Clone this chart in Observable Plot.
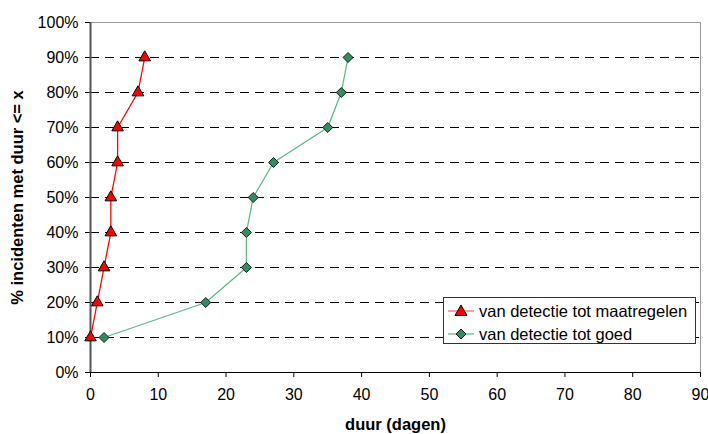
<!DOCTYPE html>
<html>
<head>
<meta charset="utf-8">
<script src="https://cdn.jsdelivr.net/npm/d3@7"></script>
<script src="https://cdn.jsdelivr.net/npm/@observablehq/plot@0.6"></script>
<style>
  html, body { margin: 0; padding: 0; background: #fff; }
  #wrap { position: relative; width: 708px; height: 434px; font-family: "Liberation Sans", Arial, sans-serif; }
  #legend { position: absolute; left: 443px; top: 297px; width: 253px; height: 47px; border: 1px solid #333; background: #fff; box-sizing: border-box; }
  .row { position: absolute; left: 3px; height: 22px; display: flex; align-items: center; font-size: 16.5px; color: #000; }
  .row svg { margin-right: 4px; }
</style>
</head>
<body>
<div id="wrap"></div>
<script>
// Data
const seriesNames = ["van detectie tot maatregelen", "van detectie tot goed"];
const pctLevels = [10, 20, 30, 40, 50, 60, 70, 80, 90];
const duurMaatregelen = [0, 1, 2, 3, 3, 4, 4, 7, 8];
const duurGoed = [2, 17, 23, 23, 24, 27, 35, 37, 38];
const xTicks = [0, 10, 20, 30, 40, 50, 60, 70, 80, 90];
const yTicks = [0, 10, 20, 30, 40, 50, 60, 70, 80, 90, 100];

const red = pctLevels.map((p, i) => ({x: duurMaatregelen[i], y: p}));
const green = pctLevels.map((p, i) => ({x: duurGoed[i], y: p}));

const font = "Liberation Sans, Arial, sans-serif";

const chart = Plot.plot({
  width: 708,
  height: 434,
  marginLeft: 90,
  marginRight: 8,
  marginTop: 22,
  marginBottom: 62,
  style: {fontFamily: font, fontSize: "16px", color: "#000", background: "#fff"},
  x: {domain: [0, 90], label: null},
  y: {domain: [0, 100], label: null},
  marks: [
    Plot.ruleY(pctLevels, {stroke: "#000", strokeDasharray: "9,6", strokeWidth: 1}),
    Plot.ruleY([100], {stroke: "#999", strokeWidth: 1}),
    Plot.ruleX([90], {stroke: "#999", strokeWidth: 1}),
    Plot.axisX({ticks: xTicks, tickSize: 5, tickPadding: 11, label: null, fontSize: 16}),
    Plot.axisY({ticks: yTicks, tickSize: 5, tickPadding: 7, label: null, tickFormat: d => d + "%", fontSize: 16}),
    Plot.ruleY([0], {stroke: "#000", strokeWidth: 1.2}),
    Plot.ruleX([0], {stroke: "#555", strokeWidth: 2}),
    Plot.line(green, {x: "x", y: "y", stroke: "#5fb88a", strokeWidth: 1.3}),
    Plot.line(red, {x: "x", y: "y", stroke: "#ff0000", strokeWidth: 1.3}),
    Plot.dot(green, {x: "x", y: "y", symbol: "diamond2", r: 4.5, fill: "#2e9060", stroke: "#1a1a1a", strokeWidth: 1}),
    Plot.dot(red, {x: "x", y: "y", symbol: "triangle", r: 4.3, fill: "#ff0000", stroke: "#000", strokeWidth: 1}),
    Plot.text(["duur (dagen)"], {frameAnchor: "bottom", dy: 57, fontWeight: "bold", fontSize: 16.5, fill: "#000"}),
    Plot.text(["% incidenten met duur <= x"], {frameAnchor: "left", dx: -73, rotate: -90, textAnchor: "middle", fontWeight: "bold", fontSize: 16.5, fill: "#000"})
  ]
});

const wrap = document.getElementById("wrap");
wrap.appendChild(chart);

// Legend
const legend = document.createElement("div");
legend.id = "legend";
const symbols = [
  {line: "#ff8080", shape: "M0,-6 L6,4.5 L-6,4.5 Z", fill: "#ff0000", stroke: "#000"},
  {line: "#80c0a0", shape: "M0,-5 L5,0 L0,5 L-5,0 Z", fill: "#2e9060", stroke: "#1a1a1a"}
];
seriesNames.forEach((name, i) => {
  const row = document.createElement("div");
  row.className = "row";
  row.style.top = (2 + i * 23) + "px";
  const s = symbols[i];
  row.innerHTML = `<svg width="28" height="20"><line x1="1" x2="27" y1="10" y2="10" stroke="${s.line}" stroke-width="1.5"/><path transform="translate(14,10)" d="${s.shape}" fill="${s.fill}" stroke="${s.stroke}" stroke-width="1"/></svg><span>${name}</span>`;
  legend.appendChild(row);
});
wrap.appendChild(legend);
</script>
</body>
</html>
